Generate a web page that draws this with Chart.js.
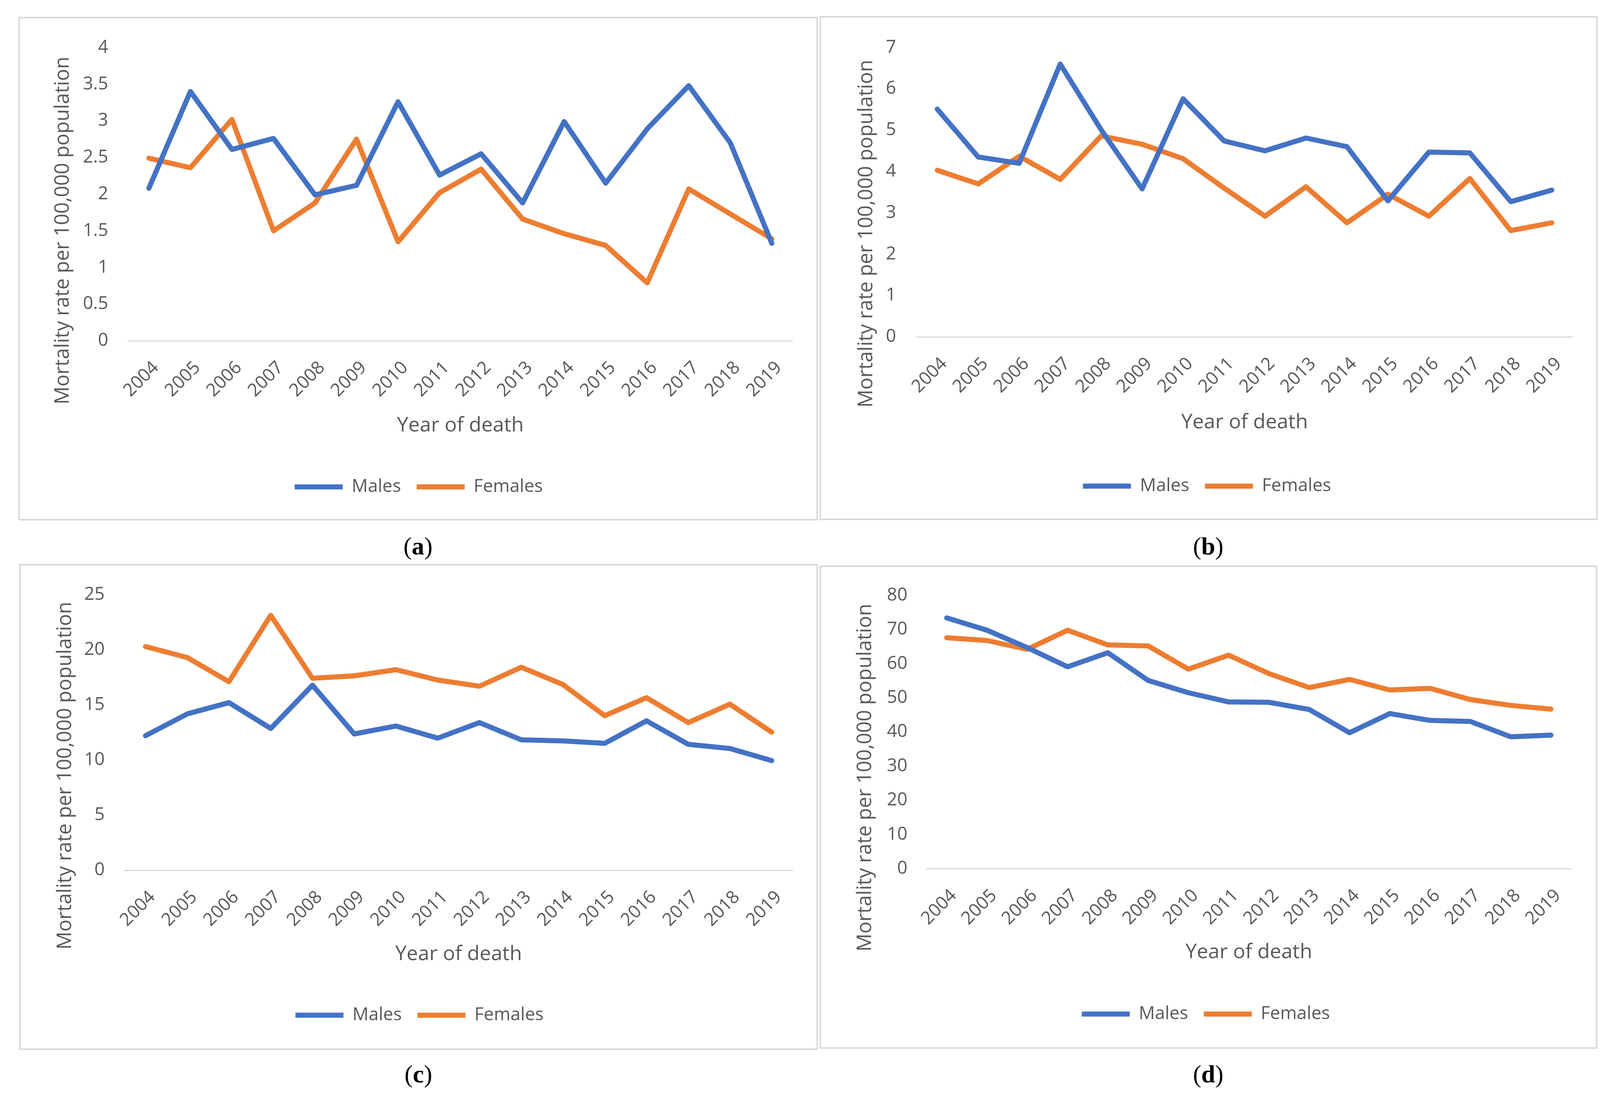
<!DOCTYPE html>
<html>
<head>
<meta charset="utf-8">
<script src="https://cdn.jsdelivr.net/npm/chart.js@4.4.1/dist/chart.umd.min.js"></script>
<style>
  body { margin: 0; background: #fff; width: 4141px; height: 2815px; position: relative; overflow: hidden; }
  .panel { position: absolute; box-sizing: border-box; border: 4px solid #d9d9d9; background: #fff; }
  .panel canvas { position: absolute; left: -4px; top: -4px; }
  .tag { position: absolute; font-family: "Liberation Serif", serif; font-size: 64px; color: #000; transform: translate(-50%, -50%); white-space: nowrap; }
</style>
</head>
<body>
<div class="panel" id="pa"><canvas id="ca"></canvas></div>
<div class="panel" id="pb"><canvas id="cb"></canvas></div>
<div class="panel" id="pc"><canvas id="cc"></canvas></div>
<div class="panel" id="pd"><canvas id="cd"></canvas></div>
<div class="tag" style="left:1070px;top:1398px">(<b>a</b>)</div>
<div class="tag" style="left:3093px;top:1398px">(<b>b</b>)</div>
<div class="tag" style="left:1071px;top:2749px">(<b>c</b>)</div>
<div class="tag" style="left:3093px;top:2749px">(<b>d</b>)</div>
<script>
// years on the x axis
const years = ['2004', '2005', '2006', '2007', '2008', '2009', '2010', '2011',
               '2012', '2013', '2014', '2015', '2016', '2017', '2018', '2019']

// (a)
const malesA = [2.08, 3.40, 2.61, 2.76, 1.99, 2.12, 3.26, 2.26, 2.55, 1.88, 2.99, 2.15, 2.89, 3.48, 2.70, 1.33]
const femalesA = [2.49, 2.36, 3.02, 1.50, 1.88, 2.75, 1.35, 2.02, 2.34, 1.66, 1.46, 1.30, 0.79, 2.07, 1.73, 1.39]
// (b)
const malesB = [5.51, 4.35, 4.20, 6.60, 5.01, 3.58, 5.76, 4.74, 4.50, 4.81, 4.60, 3.29, 4.47, 4.45, 3.27, 3.55]
const femalesB = [4.03, 3.70, 4.37, 3.81, 4.86, 4.66, 4.31, 3.60, 2.92, 3.63, 2.76, 3.45, 2.92, 3.83, 2.57, 2.76]
// (c)
const malesC = [12.2, 14.18, 15.2, 12.86, 16.78, 12.36, 13.08, 11.98, 13.39, 11.83, 11.73, 11.51, 13.55, 11.42, 11.04, 9.94]
const femalesC = [20.29, 19.29, 17.10, 23.12, 17.41, 17.63, 18.19, 17.25, 16.69, 18.41, 16.84, 14.02, 15.65, 13.39, 15.06, 12.52]
// (d)
const malesD = [73.4, 69.8, 64.7, 59.1, 63.2, 55.1, 51.5, 48.8, 48.7, 46.6, 39.8, 45.4, 43.4, 43.1, 38.6, 39.1]
const femalesD = [67.6, 66.8, 64.2, 69.8, 65.5, 65.2, 58.4, 62.5, 57.1, 53.0, 55.4, 52.3, 52.8, 49.5, 47.8, 46.7]

// y axis ranges [max, step]
const yAxisA = [4, 0.5]
const yAxisB = [7, 1]
const yAxisC = [25, 5]
const yAxisD = [80, 10]

const yTitle = 'Mortality rate per 100,000 population'
const xTitle = 'Year of death'
const seriesNames = ['Males', 'Females']

const BLUE = '#4472C4'
const ORANGE = '#ED7D31'
const TEXT = '#595959'
const FONT = '"Open Sans", "Noto Sans", sans-serif'

const LEG_FONT = 46
const LEG_PAD = 40
const XT_FONT = 52
const YT_FONT = 51
const TICK_FONT = 46

// box placement and where things sit inside each box (px, relative to box)
const panels = [
    { id: 'a', males: malesA, females: femalesA, y: yAxisA,
      left: 47, top: 43, w: 2047, h: 1289, plotL: 281, plotR: 1982, plotT: 67, plotB: 829,
      yTitleX: 114, yTitleY: 547, tickGap: 51, xTitleY: 1046, legendY: 1203, legendX: 1025 },
    { id: 'b', males: malesB, females: femalesB, y: yAxisB,
      left: 2098, top: 41, w: 1992, h: 1290, plotL: 249, plotR: 1927, plotT: 66, plotB: 821,
      yTitleX: 120, yTitleY: 557, tickGap: 53, xTitleY: 1040, legendY: 1203, legendX: 992 },
    { id: 'c', males: malesC, females: femalesC, y: yAxisC,
      left: 49, top: 1443, w: 2045, h: 1244, plotL: 270, plotR: 1980, plotT: 65, plotB: 784,
      yTitleX: 118, yTitleY: 542, tickGap: 51, xTitleY: 999, legendY: 1155, legendX: 1025 },
    { id: 'd', males: malesD, females: femalesD, y: yAxisD,
      left: 2098, top: 1447, w: 1991, h: 1237, plotL: 274, plotR: 1924, plotT: 66, plotB: 776,
      yTitleX: 117, yTitleY: 543, tickGap: 49, xTitleY: 990, legendY: 1148, legendX: 989 }
]

// vertical axis title, placed where the reference has it (not centred on the axis)
const yTitlePlugin = {
    id: 'yTitle',
    afterDraw(chart, args, opts) {
        const ctx = chart.ctx
        ctx.save()
        ctx.translate(opts.x, opts.y)
        ctx.rotate(-Math.PI / 2)
        ctx.font = YT_FONT + 'px ' + FONT
        ctx.fillStyle = TEXT
        ctx.textAlign = 'center'
        ctx.textBaseline = 'middle'
        ctx.fillText(opts.text, 0, 0)
        ctx.restore()
    }
}

function lineSet(label, values, color) {
    return {
        label: label,
        data: values,
        borderColor: color,
        backgroundColor: color,
        borderWidth: 13,
        borderCapStyle: 'round',
        borderJoinStyle: 'round',
        pointRadius: 0,
        tension: 0
    }
}

function makePanel(p) {
    const box = document.getElementById('p' + p.id)
    box.style.left = p.left + 'px'
    box.style.top = p.top + 'px'
    box.style.width = p.w + 'px'
    box.style.height = p.h + 'px'

    const canvas = document.getElementById('c' + p.id)
    canvas.width = p.w
    canvas.height = p.h

    // sizes so the plot area lands where the reference has it
    const padRight = p.w - p.plotR
    const padLeft = 2 * p.legendX - p.w + padRight
    const xScaleH = p.legendY - p.plotB - LEG_PAD - LEG_FONT / 2
    const xTitlePadBottom = p.plotB + xScaleH - XT_FONT * 1.2 / 2 - p.xTitleY
    const legendH = LEG_FONT + LEG_PAD + 10
    const padBottom = p.h - (p.plotB + xScaleH + legendH)

    return new Chart(canvas, {
        type: 'line',
        data: {
            labels: years,
            datasets: [lineSet(seriesNames[0], p.males, BLUE), lineSet(seriesNames[1], p.females, ORANGE)]
        },
        plugins: [yTitlePlugin],
        options: {
            responsive: false,
            animation: false,
            devicePixelRatio: 1,
            layout: { padding: { top: p.plotT, right: padRight, bottom: padBottom, left: padLeft } },
            plugins: {
                tooltip: { enabled: false },
                yTitle: { text: yTitle, x: p.yTitleX, y: p.yTitleY },
                legend: {
                    position: 'bottom',
                    labels: {
                        usePointStyle: true,
                        pointStyle: 'line',
                        pointStyleWidth: 123,
                        padding: LEG_PAD,
                        color: TEXT,
                        font: { family: FONT, size: LEG_FONT }
                    }
                }
            },
            scales: {
                x: {
                    offset: true,
                    grid: { display: false, drawTicks: false },
                    border: { display: true, color: '#d9d9d9', width: 3 },
                    ticks: {
                        autoSkip: false,
                        minRotation: 45,
                        maxRotation: 45,
                        padding: 42,
                        labelOffset: 18,
                        color: TEXT,
                        font: { family: FONT, size: TICK_FONT }
                    },
                    title: {
                        display: true,
                        text: xTitle,
                        color: TEXT,
                        padding: { top: 0, bottom: xTitlePadBottom },
                        font: { family: FONT, size: XT_FONT }
                    },
                    afterFit: function(scale) { scale.height = xScaleH }
                },
                y: {
                    min: 0,
                    max: p.y[0],
                    grid: { display: false, drawTicks: false },
                    border: { display: false },
                    ticks: {
                        stepSize: p.y[1],
                        padding: p.tickGap,
                        color: TEXT,
                        font: { family: FONT, size: TICK_FONT },
                        callback: function(value) { return String(value) }
                    },
                    afterFit: function(scale) { scale.width = p.plotL - padLeft }
                }
            }
        }
    })
}

const charts = panels.map(makePanel)
</script>
</body>
</html>
